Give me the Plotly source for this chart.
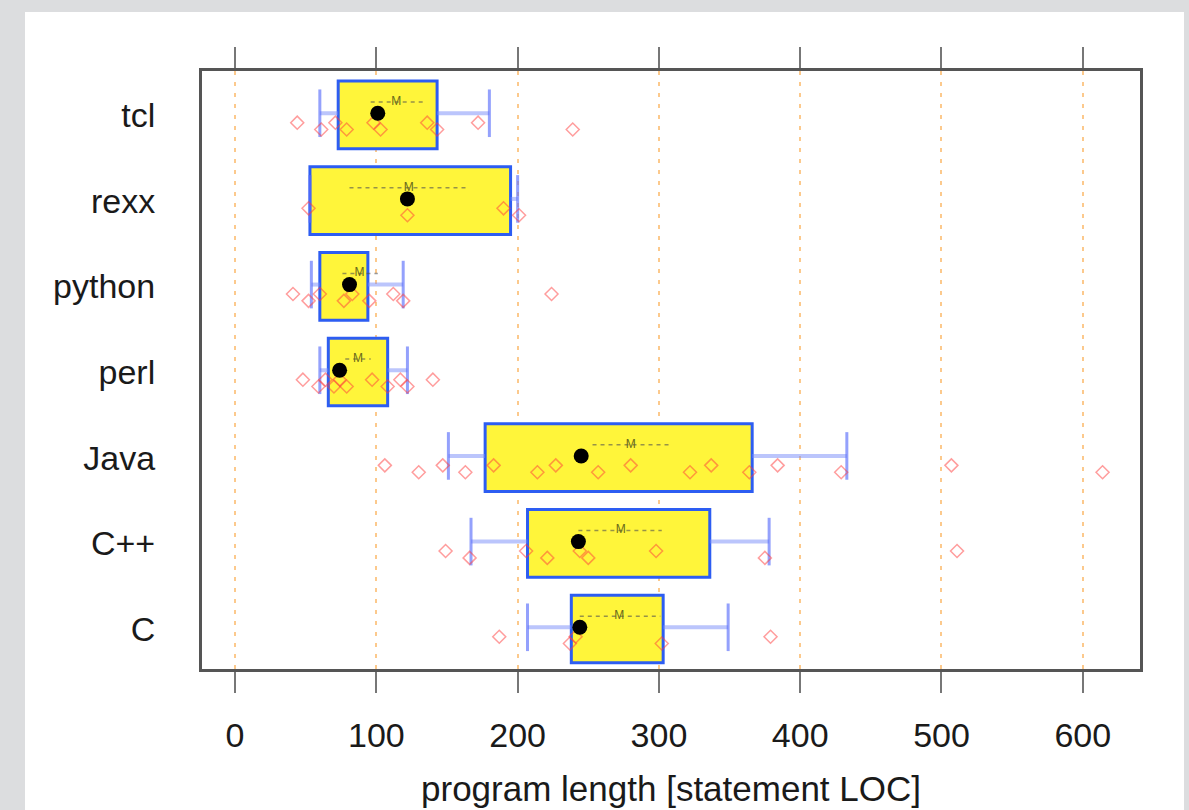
import plotly.graph_objects as go

# ---- data (bottom to top) ----
languages = ["C", "C++", "Java", "perl", "python", "rexx", "tcl"]
p10 = [207, 167, 151, 60, 54, 53, 60]        # whisker low (10th pct)
q1 = [238, 207, 177, 66, 60, 53, 73]         # box low (25th pct)
median = [244, 243, 245, 74, 81, 122, 101]
q3 = [303, 336, 366, 108, 94, 195, 143]      # box high (75th pct)
p90 = [349, 378, 433, 122, 119, 200, 180]    # whisker high (90th pct)
mean = [272, 273, 280, 87, 88, 123, 114]
mean_lo = [244, 243, 253, 78, 76, 81, 96]    # mean - s.e.
mean_hi = [301, 302, 309, 96, 101, 164, 133] # mean + s.e.

points = {
    "C": [187, 237, 241, 302, 379],
    "C++": [149, 166, 206, 221, 244, 250, 298, 375, 511],
    "Java": [106, 130, 147, 163, 183, 214, 227, 257, 280, 322, 337, 364, 384, 429, 507, 614],
    "perl": [48, 59, 64, 70, 74, 79, 97, 108, 117, 122, 140],
    "python": [41, 52, 60, 77, 83, 95, 112, 119, 224],
    "rexx": [52, 122, 190, 201],
    "tcl": [44, 61, 71, 79, 98, 103, 136, 143, 172, 239],
}
tick_vals_x = [0, 100, 200, 300, 400, 500, 600]

ypos = list(range(len(languages)))
FONT = "Liberation Sans, Arial, sans-serif"

fig = go.Figure()

# whiskers (segments outside the box) and caps
wx, wy = [], []
for i in ypos:
    wx += [p10[i], q1[i], None, q3[i], p90[i], None]
    wy += [i + 0.02, i + 0.02, None, i + 0.02, i + 0.02, None]
fig.add_trace(go.Scatter(x=wx, y=wy, mode="lines",
                         line=dict(color="rgba(120,140,250,0.5)", width=4),
                         hoverinfo="skip", showlegend=False))
fig.add_trace(go.Scatter(x=p10 + p90, y=[i + 0.02 for i in ypos + ypos], mode="markers",
                         marker=dict(symbol="line-ns", size=34,
                                     line=dict(color="rgba(90,110,250,0.65)", width=3)),
                         hoverinfo="skip", showlegend=False))

# boxes
fig.add_trace(go.Bar(
    y=ypos, x=[b - a for a, b in zip(q1, q3)], base=q1, orientation="h",
    width=0.79, marker=dict(color="#fff53a", line=dict(color="#2d5df2", width=3)),
    hoverinfo="skip", showlegend=False))

# mean +- s.e. dashed lines
mx, my = [], []
for i in ypos:
    mx += [mean_lo[i], mean_hi[i], None]
    my += [i + 0.15, i + 0.15, None]
fig.add_trace(go.Scatter(x=mx, y=my, mode="lines",
                         line=dict(color="rgba(80,80,80,0.6)", width=1.5, dash="4px,4px"),
                         hoverinfo="skip", showlegend=False))

# individual points
px_, py_ = [], []
for i, lang in enumerate(languages):
    for k, v in enumerate(points[lang]):
        px_.append(v)
        py_.append(i - (0.09 if k % 2 == 0 else 0.17))
fig.add_trace(go.Scatter(x=px_, y=py_, mode="markers",
                         marker=dict(symbol="diamond-open", size=10,
                                     color="rgba(255,60,60,0.5)",
                                     line=dict(width=1.5)),
                         hoverinfo="skip", showlegend=False))

# medians
fig.add_trace(go.Scatter(x=median, y=[i + 0.02 for i in ypos], mode="markers",
                         marker=dict(symbol="circle", size=15, color="black"),
                         hoverinfo="skip", showlegend=False))

# mean "M"
fig.add_trace(go.Scatter(x=mean, y=[i + 0.15 for i in ypos], mode="text", text=["M"] * len(ypos),
                         textfont=dict(family=FONT, size=12, color="#6a6a1a"),
                         hoverinfo="skip", showlegend=False))

# white panel behind everything
fig.add_shape(type="rect", xref="paper", yref="paper",
              x0=(25 - 202) / 938, x1=(1184 - 202) / 938,
              y0=(669 - 830) / 598, y1=(669 - 12) / 598,
              fillcolor="white", line=dict(width=0), layer="below")

fig.update_layout(
    width=1189, height=810,
    margin=dict(l=202, r=49, t=71, b=141),
    paper_bgcolor="#dcdddf", plot_bgcolor="white",
    font=dict(family=FONT, size=34, color="#1a1a1a"),
    showlegend=False,
    xaxis=dict(range=[-23.4, 640.5], tickvals=tick_vals_x, automargin=False,
               ticks="outside", ticklen=21, tickwidth=2, tickcolor="#777777",
               showline=True, linecolor="#555555", linewidth=3, mirror="ticks",
               showgrid=True, gridcolor="#fcc98c", gridwidth=2, griddash="4px,7px",
               zeroline=False, ticklabelstandoff=13,
               title=dict(text="program length [statement LOC]", standoff=24,
                          font=dict(size=35))),
    yaxis=dict(range=[-0.467, 6.513], tickvals=ypos, ticktext=languages, automargin=False,
               ticks="", showline=True, linecolor="#555555", linewidth=3, mirror=True,
               showgrid=False, zeroline=False, ticklabelstandoff=37),
)

fig.write_html("out.html")
